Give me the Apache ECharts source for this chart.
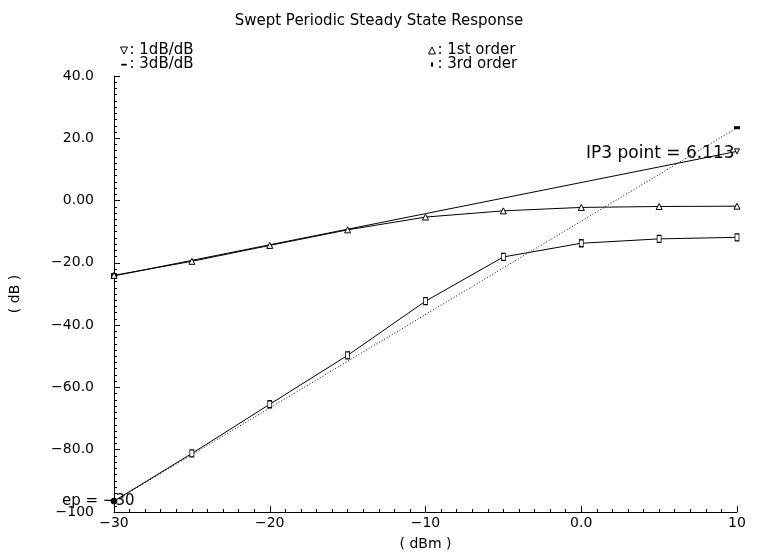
<!DOCTYPE html>
<html>
<head>
<meta charset="utf-8">
<script src="https://cdn.jsdelivr.net/npm/echarts@6/dist/echarts.min.js"></script>
<style>
  html, body { margin: 0; padding: 0; background: #fff; }
  #main { width: 758px; height: 556px; }
</style>
</head>
<body>
<div id="main"></div>
<script>
// swept input power (dBm)
var inputPower = [-30, -25, -20, -15, -10, -5, 0, 5, 10];
// harmonic outputs (dB)
var firstOrder = [-24.0, -19.5, -14.4, -9.4, -5.3, -3.3, -2.2, -1.9, -1.8];
var thirdOrder = [-96.5, -81.2, -65.4, -49.7, -32.3, -18.1, -13.7, -12.3, -11.8];
// extrapolation lines, [x, y]
var oneDbLine = [[-30, -24.2], [10, 15.8]];
var threeDbLine = [[-30, -96.6], [10, 23.4]];
// tick labels as printed
var yTickLabels = ['\u2212100', '\u221280.0', '\u221260.0', '\u221240.0', '\u221220.0', '0.00', '20.0', '40.0'];
var xTickLabels = ['\u221230', '\u221220', '\u221210', '0.0', '10'];
var ip3Text = 'IP3 point = 6.113';
var epText = 'ep = \u221230';

var FONT = '"DejaVu Sans", "Liberation Sans", sans-serif';
var chart = echarts.init(document.getElementById('main'));

var pair = function (xs, ys) {
    return xs.map(function (x, i) { return [x, ys[i]]; });
};

var thirdData = pair(inputPower, thirdOrder).map(function (p, i) {
    if (i === 0) {
        return { value: p, symbol: 'circle', symbolSize: 6, itemStyle: { color: '#000' } };
    }
    return p;
});
var oneDbData = oneDbLine.map(function (p, i) {
    if (i === 0) {
        return { value: p, symbol: 'rect', symbolSize: 5, itemStyle: { color: '#000' } };
    }
    return p;
});

var triDown = 'path://M0,0L10,0L5,10Z';
var triUp = 'path://M5,0L10,10L0,10Z';
// padded paths so the legend keeps them small
var dashIcon = 'path://M0,0M10,10M1,4L9,4L9,6.5L1,6.5Z';
var tickIcon = 'path://M0,0M10,10M3.5,2L6.5,2L6.5,8L3.5,8Z';

var legendText = { fontFamily: FONT, fontSize: 15, color: '#000', padding: [0, 0, 0, -3] };

var option = {
    backgroundColor: '#fff',
    animation: false,
    textStyle: { fontFamily: FONT, color: '#000' },
    title: {
        text: 'Swept Periodic Steady State Response',
        left: 'center',
        top: 9,
        textStyle: { fontFamily: FONT, fontSize: 15, fontWeight: 'normal', color: '#000' }
    },
    legend: [
        {
            orient: 'vertical', left: 115, top: 38, itemGap: -1,
            itemWidth: 7, itemHeight: 7,
            textStyle: legendText,
            formatter: ': {name}',
            data: [
                { name: '1dB/dB', icon: triDown, itemStyle: { color: '#fff', borderColor: '#000', borderWidth: 1 } },
                { name: '3dB/dB', icon: dashIcon, itemStyle: { color: '#000', borderWidth: 0 } }
            ]
        },
        {
            orient: 'vertical', left: 423, top: 38, itemGap: -1,
            itemWidth: 7, itemHeight: 7,
            textStyle: legendText,
            formatter: ': {name}',
            data: [
                { name: '1st order', icon: triUp, itemStyle: { color: '#fff', borderColor: '#000', borderWidth: 1 } },
                { name: '3rd order', icon: tickIcon, itemStyle: { color: '#000', borderWidth: 0 } }
            ]
        }
    ],
    grid: { left: 112, right: 21, top: 76, bottom: 41 },
    xAxis: {
        type: 'value', min: -30, max: 10, interval: 10,
        name: '( dBm )', nameLocation: 'middle', nameGap: 25,
        nameTextStyle: { fontFamily: FONT, fontSize: 14, color: '#000' },
        axisLine: { onZero: false, lineStyle: { color: '#000', width: 1 } },
        axisTick: { inside: true, length: 6, lineStyle: { color: '#000' } },
        minorTick: { show: true, splitNumber: 10, length: 3, lineStyle: { color: '#000' } },
        splitLine: { show: false },
        axisLabel: {
            margin: 4, fontFamily: FONT, fontSize: 14, color: '#000',
            formatter: function (v) { return xTickLabels[Math.round((v + 30) / 10)]; }
        }
    },
    yAxis: {
        type: 'value', min: -100, max: 40, interval: 20,
        name: '( dB )', nameLocation: 'middle', nameGap: 92, nameRotate: 90,
        nameTextStyle: { fontFamily: FONT, fontSize: 14, color: '#000' },
        axisLine: { onZero: false, lineStyle: { color: '#000', width: 1 } },
        axisTick: { inside: true, length: 6, lineStyle: { color: '#000' } },
        minorTick: { show: true, splitNumber: 10, length: 3, lineStyle: { color: '#000' } },
        splitLine: { show: false },
        axisLabel: {
            margin: 20, fontFamily: FONT, fontSize: 14, color: '#000',
            formatter: function (v) { return yTickLabels[Math.round((v + 100) / 20)]; }
        }
    },
    series: [
        {
            name: '1dB/dB', type: 'line', data: oneDbData,
            symbol: triDown, symbolSize: 5, showAllSymbol: true,
            lineStyle: { color: '#000', width: 1 },
            itemStyle: { color: '#fff', borderColor: '#000', borderWidth: 1 }
        },
        {
            name: '3dB/dB', type: 'line', data: threeDbLine,
            symbol: 'rect', symbolSize: [6, 3],
            lineStyle: { color: '#000', width: 1, type: [1, 2] },
            itemStyle: { color: '#000' }
        },
        {
            name: '1st order', type: 'line', data: pair(inputPower, firstOrder),
            symbol: triUp, symbolSize: 6, showAllSymbol: true,
            lineStyle: { color: '#000', width: 1 },
            itemStyle: { color: '#fff', borderColor: '#000', borderWidth: 1 }
        },
        {
            name: '3rd order', type: 'line', data: thirdData,
            symbol: 'rect', symbolSize: [4, 7], showAllSymbol: true,
            lineStyle: { color: '#000', width: 1 },
            itemStyle: { color: '#fff', borderColor: '#000', borderWidth: 1 }
        }
    ],
    graphic: [
        {
            type: 'text', left: 586, top: 145,
            style: { text: ip3Text, font: '17px ' + FONT, fill: '#000' }
        },
        {
            type: 'text', left: 62, top: 494,
            style: { text: epText, font: '15px ' + FONT, fill: '#000' }
        }
    ]
};

chart.setOption(option);
</script>
</body>
</html>
